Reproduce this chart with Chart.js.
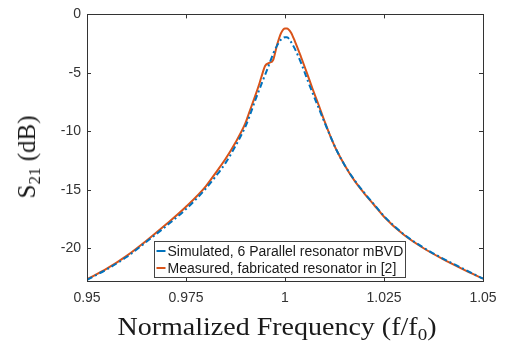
<!DOCTYPE html>
<html lang="en">
<head>
<meta charset="UTF-8">
<title>S21 vs normalized frequency</title>
<script src="https://cdn.jsdelivr.net/npm/chart.js@4.4.0/dist/chart.umd.min.js"></script>
<style>
  body { margin: 0; background: #fff; }
  .wrap { position: relative; width: 507px; height: 358px; }
  .ytitle, .xtitle {
    position: absolute;
    font-family: "Liberation Serif", "Times New Roman", serif;
    color: #1a1a1a;
    white-space: nowrap;
  }
  .ytitle { font-size: 25px; left: 27px; top: 157px; transform: translate(-50%, -50%) rotate(-90deg); }
  .xtitle { font-size: 25px; left: 277px; top: 327px; transform: translate(-50%, -50%) scaleX(1.12); }
  sub { font-size: 68%; vertical-align: -0.3em; line-height: 0; }
</style>
</head>
<body>
<div class="wrap">
  <canvas id="s21Chart" width="507" height="358"></canvas>
  <div class="ytitle">S<sub>21</sub> (dB)</div>
  <div class="xtitle">Normalized Frequency (f/f<sub>0</sub>)</div>
</div>

<script>
// data
var freq = [0.95, 0.955, 0.96, 0.965, 0.97, 0.975, 0.98, 0.9825, 0.985, 0.9875, 0.99, 0.991, 0.9925,
            0.9935, 0.994, 0.995, 0.996, 0.997, 0.998, 0.999, 1.0, 1.0005, 1.0015, 1.0025, 1.004, 1.0055,
            1.007, 1.0085, 1.01, 1.0115, 1.013, 1.015, 1.0175, 1.02, 1.0225, 1.025, 1.03, 1.035, 1.04, 1.045, 1.05];

var simulated = [-22.7, -21.8, -20.75, -19.45, -18.1, -16.65, -14.9, -13.85, -12.7, -11.25, -9.6, -8.75, -7.33,
                 -6.45, -6.0, -5.15, -4.27, -3.37, -2.67, -2.15, -1.95, -1.95, -2.35, -2.95, -4.1, -5.45,
                 -6.75, -8.0, -9.25, -10.45, -11.6, -12.85, -14.15, -15.25, -16.25, -17.25, -18.8, -19.95, -20.9, -21.75, -22.6];

var measured = [-22.65, -21.75, -20.65, -19.35, -17.95, -16.45, -14.7, -13.55, -12.35, -10.95, -9.3, -8.35, -6.95,
                -5.95, -5.4, -4.4, -4.15, -3.9, -2.6, -1.6, -1.2, -1.2, -1.55, -2.3, -3.6, -4.98,
                -6.4, -7.75, -9.15, -10.45, -11.6, -12.85, -14.2, -15.3, -16.3, -17.3, -18.85, -20.0, -20.95, -21.8, -22.6];

var xTicks = [0.95, 0.975, 1, 1.025, 1.05];
var yTicks = [-20, -15, -10, -5, 0];
var seriesNames = ["Simulated, 6 Parallel resonator mBVD", "Measured, fabricated resonator in [2]"];

var axisColor = '#333333';

// box around the axes with inward ticks on all four sides (matlab style)
var boxPlugin = {
  id: 'boxPlugin',
  afterDatasetsDraw: function (chart) {
    var ctx = chart.ctx, a = chart.chartArea;
    var xs = chart.scales.x, ys = chart.scales.y;
    var tl = 4;
    ctx.save();
    ctx.strokeStyle = axisColor;
    ctx.lineWidth = 1;
    ctx.strokeRect(Math.round(a.left) + 0.5, Math.round(a.top) + 0.5,
                   Math.round(a.right - a.left), Math.round(a.bottom - a.top));
    ctx.beginPath();
    xTicks.forEach(function (v) {
      var px = Math.round(xs.getPixelForValue(v)) + 0.5;
      ctx.moveTo(px, a.bottom); ctx.lineTo(px, a.bottom - tl);
      ctx.moveTo(px, a.top); ctx.lineTo(px, a.top + tl);
    });
    yTicks.forEach(function (v) {
      var py = Math.round(ys.getPixelForValue(v)) + 0.5;
      ctx.moveTo(a.left, py); ctx.lineTo(a.left + tl, py);
      ctx.moveTo(a.right, py); ctx.lineTo(a.right - tl, py);
    });
    ctx.stroke();
    ctx.restore();
  }
};

// legend box inside the plot, bottom centre
var legendPlugin = {
  id: 'legendInside',
  afterDraw: function (chart) {
    var ctx = chart.ctx, a = chart.chartArea;
    ctx.save();
    ctx.font = '14px "Liberation Sans", Arial, sans-serif';
    var w = 0;
    seriesNames.forEach(function (n) { w = Math.max(w, ctx.measureText(n).width); });
    var lineLen = 9, gap = 2, padX = 2, rowH = 17;
    var boxW = Math.round(padX + lineLen + gap + w + padX);
    var boxH = rowH * seriesNames.length + 2;
    var cx = (a.left + a.right) / 2 - 6;
    var left = Math.round(cx - boxW / 2) + 0.5;
    var top = Math.round(a.bottom - 4 - boxH) + 0.5;
    ctx.fillStyle = '#fff';
    ctx.fillRect(left, top, boxW, boxH);
    ctx.strokeStyle = '#444';
    ctx.lineWidth = 1;
    ctx.strokeRect(left, top, boxW, boxH);
    chart.data.datasets.forEach(function (ds, i) {
      var y = top + 1 + rowH * i + rowH / 2;
      ctx.strokeStyle = ds.borderColor;
      ctx.lineWidth = 2;
      ctx.setLineDash([]);
      ctx.beginPath();
      ctx.moveTo(left + padX, y);
      ctx.lineTo(left + padX + lineLen, y);
      ctx.stroke();
      ctx.fillStyle = '#1a1a1a';
      ctx.textBaseline = 'middle';
      ctx.fillText(ds.label, left + padX + lineLen + gap, y + 1);
    });
    ctx.restore();
  }
};

new Chart(document.getElementById('s21Chart'), {
  type: 'line',
  data: {
    datasets: [{
      label: seriesNames[0],
      data: freq.map(function (f, i) { return { x: f, y: simulated[i] }; }),
      borderColor: '#0072BD',
      borderWidth: 2,
      borderDash: [6, 3, 2, 3],
      pointRadius: 0,
      cubicInterpolationMode: 'monotone',
      fill: false
    }, {
      label: seriesNames[1],
      data: freq.map(function (f, i) { return { x: f, y: measured[i] }; }),
      borderColor: '#D95319',
      borderWidth: 2,
      pointRadius: 0,
      cubicInterpolationMode: 'monotone',
      fill: false
    }]
  },
  options: {
    responsive: false,
    animation: false,
    layout: { padding: { left: 0, right: 24, top: 11, bottom: 0 } },
    plugins: { legend: { display: false }, tooltip: { enabled: false } },
    scales: {
      x: {
        type: 'linear',
        min: 0.95,
        max: 1.05,
        grid: { display: false, drawTicks: false },
        border: { display: false },
        afterBuildTicks: function (s) { s.ticks = xTicks.map(function (v) { return { value: v }; }); },
        afterFit: function (s) { s.height = 77; },
        ticks: {
          padding: 9,
          maxRotation: 0,
          color: axisColor,
          font: { family: '"Liberation Sans", Arial, sans-serif', size: 14 },
          callback: function (v) { return String(v); }
        }
      },
      y: {
        min: -22.8,
        max: 0,
        grid: { display: false, drawTicks: false },
        border: { display: false },
        afterBuildTicks: function (s) { s.ticks = yTicks.map(function (v) { return { value: v }; }); },
        afterFit: function (s) { s.width = 87; },
        ticks: {
          padding: 6,
          color: axisColor,
          font: { family: '"Liberation Sans", Arial, sans-serif', size: 14 },
          callback: function (v) { return String(v); }
        }
      }
    }
  },
  plugins: [boxPlugin, legendPlugin]
});
</script>
</body>
</html>
